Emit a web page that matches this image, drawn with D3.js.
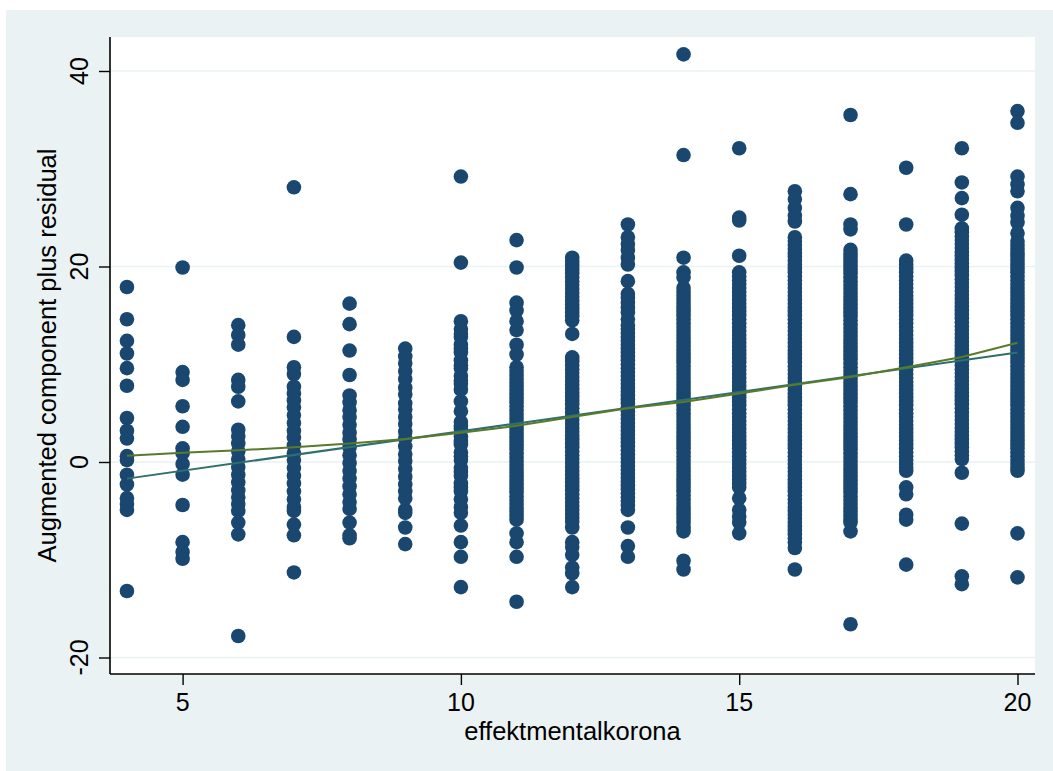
<!DOCTYPE html>
<html>
<head>
<meta charset="utf-8">
<script src="https://cdn.jsdelivr.net/npm/d3@7"></script>
<style>
  html, body { margin: 0; padding: 0; background: #ffffff; }
  svg { display: block; }
  text { font-family: "Liberation Sans", Arial, Helvetica, sans-serif; fill: #000; }
</style>
</head>
<body>
<svg id="chart" width="1053" height="771"></svg>
<script>
// ---------- data ----------
const categories = [4, 5, 6, 7, 8, 9, 10, 11, 12, 13, 14, 15, 16, 17, 18, 19, 20];

const residuals4 = [17.9, 14.6, 12.4, 11.1, 9.6, 7.8, 4.5, 3.2, 2.4, 0.6, 0.2, -1.3, -2.3, -3.7, -4.3, -4.9, -13.2];
const residuals5 = [19.9, 9.2, 8.4, 5.7, 3.6, 1.4, 0.9, -0.2, -1.3, -4.4, -8.2, -9.2, -9.9];
const residuals6 = [14.0, 13.0, 12.0, 8.4, 7.7, 6.2, 3.3, 2.6, 1.9, 1.1, 0.3, -0.5, -1.3, -2.1, -2.9, -3.6, -4.3, -5.0, -6.2, -7.4, -17.8];
const residuals7 = [28.1, 12.8, 9.7, 9.0, 7.7, 7.0, 6.3, 5.6, 4.8, 4.0, 3.2, 2.5, 1.7, 0.9, 0.2, -0.6, -1.4, -2.2, -3.0, -3.8, -4.6, -5.0, -6.4, -7.5, -11.3];
const residuals8 = [16.2, 14.1, 11.4, 8.9, 6.8, 6.1, 5.3, 4.6, 3.8, 3.0, 2.3, 1.5, 0.7, -0.1, -0.9, -1.7, -2.5, -3.3, -4.1, -4.8, -6.2, -7.5, -7.8];
const residuals9 = [11.6, 10.8, 10.1, 9.3, 8.5, 7.6, 6.9, 6.0, 5.4, 4.6, 3.9, 3.1, 2.4, 1.6, 0.8, 0.1, -0.7, -1.5, -2.3, -3.0, -3.7, -4.9, -5.2, -6.7, -8.4];
const residuals10 = [29.2, 20.4, 14.4, 13.6, 13.1, 12.8, 12.0, 11.6, 11.2, 10.4, 9.9, 9.6, 8.8, 8.3, 8.0, 7.4, 6.2, 5.2, 4.1, 3.7, 3.4, 2.6, 2.1, 1.8, 1.0, 0.6, 0.2, -0.6, -1.0, -1.4, -2.2, -2.6, -3.0, -3.8, -4.6, -5.2, -6.5, -8.2, -9.7, -12.8];
const residuals11 = [22.7, 19.9, 16.3, 15.5, 14.4, 13.5, 12.0, 11.0, 9.7, 9.3, 8.9, 8.5, 8.1, 7.7, 7.3, 6.9, 6.5, 6.1, 5.7, 5.3, 4.9, 4.5, 4.1, 3.7, 3.3, 2.9, 2.5, 2.1, 1.7, 1.3, 0.9, 0.5, 0.1, -0.3, -0.7, -1.1, -1.5, -1.9, -2.3, -2.7, -3.1, -3.5, -3.9, -4.3, -4.7, -5.1, -5.5, -5.9, -7.3, -8.2, -9.7, -14.3];
const residuals12 = [20.9, 20.5, 20.1, 19.7, 19.3, 18.9, 18.5, 18.1, 17.7, 17.3, 16.9, 16.5, 16.1, 15.7, 15.3, 14.9, 14.5, 13.1, 10.7, 10.3, 9.9, 9.5, 9.1, 8.7, 8.3, 7.9, 7.5, 7.1, 6.7, 6.3, 5.9, 5.5, 5.1, 4.7, 4.3, 3.9, 3.5, 3.1, 2.7, 2.3, 1.9, 1.5, 1.1, 0.7, 0.3, -0.1, -0.5, -0.9, -1.3, -1.7, -2.1, -2.5, -2.9, -3.3, -3.7, -4.1, -4.5, -4.9, -5.3, -5.7, -6.1, -6.7, -8.2, -8.7, -9.5, -10.8, -11.4, -12.8];
const residuals13 = [24.3, 23.0, 22.3, 21.7, 20.9, 20.2, 18.5, 17.2, 16.8, 16.3, 15.8, 15.3, 14.6, 14.0, 13.6, 13.2, 12.8, 12.4, 12.0, 11.6, 11.2, 10.8, 10.4, 10.0, 9.6, 9.2, 8.8, 8.4, 8.0, 7.6, 7.2, 6.8, 6.4, 6.0, 5.6, 5.2, 4.8, 4.4, 4.0, 3.6, 3.2, 2.8, 2.4, 2.0, 1.6, 1.2, 0.8, 0.4, 0.0, -0.4, -0.8, -1.2, -1.6, -2.0, -2.4, -2.8, -3.2, -3.6, -4.0, -4.4, -4.9, -6.7, -8.6, -9.7];
const residuals14 = [41.7, 31.4, 20.9, 19.4, 18.9, 17.8, 17.4, 17.0, 16.6, 16.2, 15.8, 15.4, 15.0, 14.6, 14.2, 13.8, 13.4, 13.0, 12.6, 12.2, 11.8, 11.4, 11.0, 10.6, 10.2, 9.8, 9.4, 9.0, 8.6, 8.2, 7.8, 7.4, 7.0, 6.6, 6.2, 5.8, 5.4, 5.0, 4.6, 4.2, 3.8, 3.4, 3.0, 2.6, 2.2, 1.8, 1.4, 1.0, 0.6, 0.2, -0.2, -0.6, -1.0, -1.4, -1.8, -2.2, -2.6, -3.0, -3.4, -3.8, -4.2, -4.6, -5.0, -5.4, -5.8, -6.2, -6.7, -7.1, -10.1, -11.0];
const residuals15 = [32.1, 25.0, 24.7, 21.1, 19.4, 19.0, 18.6, 18.2, 17.8, 17.4, 17.0, 16.6, 16.2, 15.8, 15.4, 15.0, 14.6, 14.2, 13.8, 13.4, 13.0, 12.6, 12.2, 11.8, 11.4, 11.0, 10.6, 10.2, 9.8, 9.4, 9.0, 8.6, 8.2, 7.8, 7.4, 7.0, 6.6, 6.2, 5.8, 5.4, 5.0, 4.6, 4.2, 3.8, 3.4, 3.0, 2.6, 2.2, 1.8, 1.4, 1.0, 0.6, 0.2, -0.2, -0.6, -1.0, -1.4, -1.8, -2.2, -2.6, -3.7, -4.9, -5.6, -6.2, -7.3];
const residuals16 = [27.7, 26.9, 26.0, 25.2, 24.6, 23.0, 22.6, 22.2, 21.8, 21.4, 21.0, 20.6, 20.2, 19.8, 19.4, 19.0, 18.6, 18.2, 17.8, 17.4, 17.0, 16.6, 16.2, 15.8, 15.4, 15.0, 14.6, 14.2, 13.8, 13.4, 13.0, 12.6, 12.2, 11.8, 11.4, 11.0, 10.6, 10.2, 9.8, 9.4, 9.0, 8.6, 8.2, 7.8, 7.4, 7.0, 6.6, 6.2, 5.8, 5.4, 5.0, 4.6, 4.2, 3.8, 3.4, 3.0, 2.6, 2.2, 1.8, 1.4, 1.0, 0.6, 0.2, -0.2, -0.6, -1.0, -1.4, -1.8, -2.2, -2.6, -3.0, -3.4, -3.8, -4.2, -4.6, -5.0, -5.4, -5.8, -6.2, -6.6, -7.0, -7.4, -7.8, -8.2, -8.8, -11.0];
const residuals17 = [35.5, 27.4, 24.3, 23.8, 21.7, 21.3, 20.9, 20.5, 20.1, 19.7, 19.3, 18.9, 18.5, 18.1, 17.7, 17.3, 16.9, 16.5, 16.1, 15.7, 15.3, 14.9, 14.5, 14.1, 13.7, 13.3, 12.9, 12.5, 12.1, 11.7, 11.3, 10.9, 10.5, 10.1, 9.7, 9.3, 8.9, 8.5, 8.1, 7.7, 7.3, 6.9, 6.5, 6.1, 5.7, 5.3, 4.9, 4.5, 4.1, 3.7, 3.3, 2.9, 2.5, 2.1, 1.7, 1.3, 0.9, 0.5, 0.1, -0.3, -0.7, -1.1, -1.5, -1.9, -2.3, -2.7, -3.1, -3.5, -3.9, -4.3, -4.7, -5.1, -5.5, -5.9, -6.2, -7.1, -16.6];
const residuals18 = [30.1, 24.3, 20.6, 20.2, 19.8, 19.4, 19.0, 18.6, 18.2, 17.8, 17.4, 17.0, 16.6, 16.2, 15.8, 15.4, 15.0, 14.6, 14.2, 13.8, 13.4, 13.0, 12.6, 12.2, 11.8, 11.4, 11.0, 10.6, 10.2, 9.8, 9.4, 9.0, 8.6, 8.2, 7.8, 7.4, 7.0, 6.6, 6.2, 5.8, 5.4, 5.0, 4.6, 4.2, 3.8, 3.4, 3.0, 2.6, 2.2, 1.8, 1.4, 1.0, 0.6, 0.2, -0.2, -0.6, -0.9, -2.6, -3.3, -5.4, -5.9, -10.5];
const residuals19 = [32.1, 28.6, 27.0, 25.3, 23.9, 23.5, 23.1, 22.7, 22.3, 21.9, 21.5, 21.1, 20.7, 20.3, 19.9, 19.5, 19.1, 18.7, 18.3, 17.9, 17.5, 17.1, 16.7, 16.3, 15.9, 15.5, 15.1, 14.7, 14.3, 13.9, 13.5, 13.1, 12.7, 12.3, 11.9, 11.5, 11.1, 10.7, 10.3, 9.9, 9.5, 9.1, 8.7, 8.3, 7.9, 7.5, 7.1, 6.7, 6.3, 5.9, 5.5, 5.1, 4.7, 4.3, 3.9, 3.5, 3.1, 2.7, 2.3, 1.9, 1.5, 1.1, 0.7, 0.3, -1.1, -6.3, -11.7, -12.5];
const residuals20 = [35.9, 34.7, 29.2, 28.4, 27.7, 26.0, 25.2, 24.5, 23.4, 22.6, 22.2, 21.8, 21.4, 21.0, 20.6, 20.2, 19.8, 19.4, 19.0, 18.6, 18.2, 17.8, 17.4, 17.0, 16.6, 16.2, 15.8, 15.4, 15.0, 14.6, 14.2, 13.8, 13.4, 13.0, 12.6, 12.2, 11.8, 11.4, 11.0, 10.6, 10.2, 9.8, 9.4, 9.0, 8.6, 8.2, 7.8, 7.4, 7.0, 6.6, 6.2, 5.8, 5.4, 5.0, 4.6, 4.2, 3.8, 3.4, 3.0, 2.6, 2.2, 1.8, 1.4, 1.0, 0.6, 0.2, -0.2, -0.6, -0.9, -7.3, -11.8];

const residualColumns = [residuals4, residuals5, residuals6, residuals7, residuals8, residuals9, residuals10,
  residuals11, residuals12, residuals13, residuals14, residuals15, residuals16, residuals17, residuals18,
  residuals19, residuals20];

// linear fit line endpoints
const fitX = [4, 20];
const fitY = [-1.7, 11.2];

// lowess smooth at each category
const lowessY = [0.65, 0.95, 1.2, 1.5, 1.9, 2.35, 3.0, 3.7, 4.6, 5.5, 6.15, 7.0, 7.9, 8.7, 9.7, 10.75, 12.2];

const xTicks = [5, 10, 15, 20];
const yTicks = [-20, 0, 20, 40];
const xTitle = "effektmentalkorona";
const yTitle = "Augmented component plus residual";

// ---------- layout ----------
const svg = d3.select("#chart");
const plot = { left: 110, right: 1035, top: 37, bottom: 674 };

svg.append("rect").attr("x", 6).attr("y", 10).attr("width", 1047).attr("height", 761).attr("fill", "#eaf2f3");
svg.append("rect").attr("x", plot.left).attr("y", plot.top)
  .attr("width", plot.right - plot.left).attr("height", plot.bottom - plot.top).attr("fill", "#ffffff");

const x = d3.scaleLinear().domain([5, 20]).range([182.6, 1017.5]);
const y = d3.scaleLinear().domain([-20, 40]).range([657.5, 71]);

// gridlines
svg.append("g").selectAll("line").data(yTicks).join("line")
  .attr("x1", plot.left).attr("x2", plot.right)
  .attr("y1", d => y(d)).attr("y2", d => y(d))
  .attr("stroke", "#eaf2f3").attr("stroke-width", 1.6);

// points
const pts = [];
categories.forEach((c, i) => residualColumns[i].forEach(v => pts.push([c, v])));
svg.append("g").selectAll("circle").data(pts).join("circle")
  .attr("cx", d => x(d[0])).attr("cy", d => y(d[1])).attr("r", 7.3)
  .attr("fill", "#1a476f");

// lines
const line = d3.line().x(d => x(d[0])).y(d => y(d[1]));
svg.append("path").datum(fitX.map((d, i) => [d, fitY[i]]))
  .attr("d", line).attr("fill", "none").attr("stroke", "#2f6f6c").attr("stroke-width", 2);
svg.append("path").datum(categories.map((d, i) => [d, lowessY[i]]))
  .attr("d", line).attr("fill", "none").attr("stroke", "#5a7a2b").attr("stroke-width", 2);

// axes
const yAxis = svg.append("g").attr("transform", `translate(${plot.left},0)`)
  .call(d3.axisLeft(y).tickValues(yTicks).tickSize(11).tickFormat(""));
yAxis.select(".domain").attr("d", `M0,${plot.top}V${plot.bottom}`).attr("stroke", "#000").attr("stroke-width", 1.6);
yAxis.selectAll(".tick line").attr("stroke", "#000").attr("stroke-width", 1.4);

const xAxis = svg.append("g").attr("transform", `translate(0,${plot.bottom})`)
  .call(d3.axisBottom(x).tickValues(xTicks).tickSize(11).tickFormat(""));
xAxis.select(".domain").attr("d", `M${plot.left},0H${plot.right}`).attr("stroke", "#000").attr("stroke-width", 1.6);
xAxis.selectAll(".tick line").attr("stroke", "#000").attr("stroke-width", 1.4);

// tick labels
svg.append("g").selectAll("text").data(yTicks).join("text")
  .attr("transform", d => `translate(88,${y(d)}) rotate(-90)`)
  .attr("text-anchor", "middle").attr("font-size", 25)
  .text(d => d);

svg.append("g").selectAll("text").data(xTicks).join("text")
  .attr("x", d => x(d)).attr("y", 711)
  .attr("text-anchor", "middle").attr("font-size", 25)
  .text(d => d);

// titles
svg.append("text").attr("x", (plot.left + plot.right) / 2).attr("y", 740)
  .attr("text-anchor", "middle").attr("font-size", 25.5).text(xTitle);
svg.append("text")
  .attr("transform", `translate(56,${(plot.top + plot.bottom) / 2}) rotate(-90)`)
  .attr("text-anchor", "middle").attr("font-size", 25.5).text(yTitle);
</script>
</body>
</html>
